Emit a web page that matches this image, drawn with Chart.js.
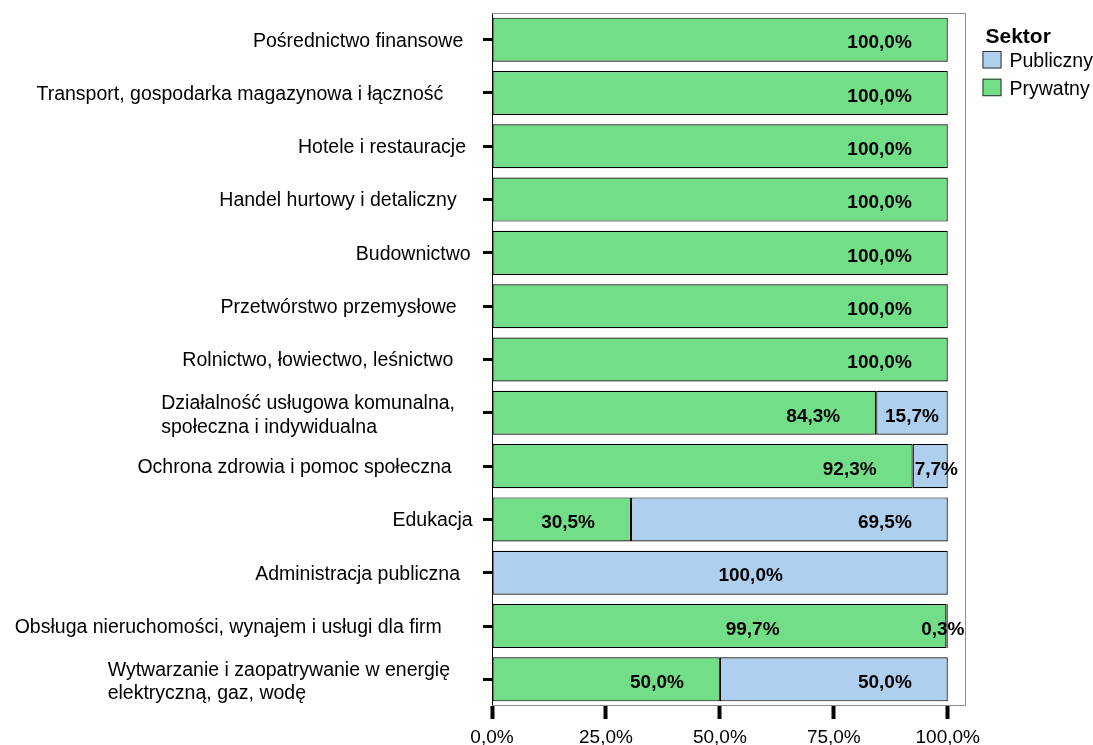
<!DOCTYPE html>
<html><head><meta charset="utf-8">
<script src="https://cdn.jsdelivr.net/npm/chart.js@4"></script>
<style>html,body{margin:0;padding:0;background:#fff}canvas{display:block}</style>
</head><body>
<canvas id="c" width="1093" height="745"></canvas>
<script>
// ---- data ----
const categories = [
  'Pośrednictwo finansowe',
  'Transport, gospodarka magazynowa i łączność',
  'Hotele i restauracje',
  'Handel hurtowy i detaliczny',
  'Budownictwo',
  'Przetwórstwo przemysłowe',
  'Rolnictwo, łowiectwo, leśnictwo',
  ['Działalność usługowa komunalna,', 'społeczna i indywidualna'],
  'Ochrona zdrowia i pomoc społeczna',
  'Edukacja',
  'Administracja publiczna',
  'Obsługa nieruchomości, wynajem i usługi dla firm',
  ['Wytwarzanie i zaopatrywanie w energię', 'elektryczną, gaz, wodę']
];
const prywatny  = [100, 100, 100, 100, 100, 100, 100, 84.3, 92.3, 30.5, 0, 99.7, 50.0];
const publiczny = [0, 0, 0, 0, 0, 0, 0, 15.7, 7.7, 69.5, 100, 0.3, 50.0];
const seriesNames = ['Prywatny', 'Publiczny'];
const legendTitle = 'Sektor';
const xTickValues = [0, 25, 50, 75, 100];

// ---- style ----
const FONT = "Arial, 'Liberation Sans', sans-serif";
const GREEN = '#72DE87';
const BLUE = '#AED0EE';
const BAR_BORDER = '#000';
const labelGap = [28.7, 48.7, 26, 35.3, 21.3, 35.3, 38.7, 37, 40.3, 19.3, 32, 50.3, 42];
const labelFracOverride = {10: 0.567, 11: 0.573};

const fmt = v => v.toFixed(1).replace('.', ',') + '%';
const nz = arr => arr.map(v => (v === 0 ? null : v));

const framePlugin = {
  id: 'frame',
  beforeDatasetsDraw(chart) {
    const {ctx, chartArea: a} = chart;
    ctx.save();
    ctx.strokeStyle = '#8c8c8c';
    ctx.lineWidth = 1;
    ctx.beginPath();
    ctx.moveTo(a.left, a.top + 0.5);
    ctx.lineTo(a.right - 0.5, a.top + 0.5);
    ctx.lineTo(a.right - 0.5, a.bottom - 0.5);
    ctx.lineTo(a.left, a.bottom - 0.5);
    ctx.stroke();
    ctx.restore();
  }
};

const valueLabelPlugin = {
  id: 'valueLabels',
  afterDatasetsDraw(chart) {
    const {ctx, chartArea: area} = chart;
    ctx.save();
    ctx.font = 'bold 19px ' + FONT;
    ctx.fillStyle = '#000';
    ctx.textBaseline = 'middle';
    ctx.textAlign = 'center';
    chart.data.datasets.forEach((ds, di) => {
      const meta = chart.getDatasetMeta(di);
      meta.data.forEach((bar, i) => {
        const v = ds.data[i];
        if (v == null) return;
        const p = bar.getProps(['x', 'base', 'y'], true);
        const left = Math.min(p.x, p.base), right = Math.max(p.x, p.base);
        const seg = right - left;
        const txt = fmt(v);
        const w = ctx.measureText(txt).width;
        let cx;
        if (labelFracOverride[i] != null) cx = left + seg * labelFracOverride[i];
        else if (seg - 36 >= w + 4) cx = right - 36 - w / 2;
        else if (seg >= w) cx = (left + right) / 2;
        else cx = left + 2 + w / 2;
        cx = Math.min(cx, area.right - 1.5 - w / 2);
        ctx.fillText(txt, cx, p.y + 3.5);
      });
    });
    ctx.restore();
  }
};

const yLabelPlugin = {
  id: 'yLabels',
  afterDraw(chart) {
    const {ctx} = chart;
    const ys = chart.scales.y;
    ctx.save();
    ctx.font = '19.5px ' + FONT;
    ctx.fillStyle = '#000';
    ctx.textBaseline = 'middle';
    ctx.textAlign = 'left';
    const lh = 23.4;
    chart.data.labels.forEach((lab, i) => {
      const lines = Array.isArray(lab) ? lab : [lab];
      const widths = lines.map(l => ctx.measureText(l).width);
      const maxW = Math.max(...widths);
      const rightEdge = ys.right - labelGap[i];
      const lx = rightEdge - maxW;
      const yc = ys.getPixelForTick(i) + (lines.length > 1 ? 3 : 1.5);
      lines.forEach((l, k) => ctx.fillText(l, lx, yc + (k - (lines.length - 1) / 2) * lh));
    });
    ctx.restore();
  }
};

const legendPlugin = {
  id: 'customLegend',
  afterDraw(chart) {
    const {ctx, chartArea: a} = chart;
    ctx.save();
    ctx.fillStyle = '#000';
    ctx.textBaseline = 'alphabetic';
    ctx.textAlign = 'left';
    ctx.font = 'bold 21px ' + FONT;
    ctx.fillText(legendTitle, a.right + 19.5, 43.3);
    ctx.font = '19.5px ' + FONT;
    const items = chart.data.datasets.slice().reverse();
    items.forEach((ds, k) => {
      const bx = a.right + 16.5, by = 51 + k * 27.7;
      ctx.fillStyle = ds.backgroundColor;
      ctx.fillRect(bx, by, 19, 17.5);
      ctx.strokeStyle = '#333';
      ctx.lineWidth = 1;
      ctx.strokeRect(bx + 0.5, by + 0.5, 18, 16.5);
      ctx.fillStyle = '#000';
      ctx.fillText(ds.label, a.right + 43.5, by + 16);
    });
    ctx.restore();
  }
};

new Chart(document.getElementById('c'), {
  type: 'bar',
  data: {
    labels: categories,
    datasets: [
      {label: seriesNames[0], data: nz(prywatny), backgroundColor: GREEN, borderColor: BAR_BORDER, borderWidth: 1.2, borderSkipped: false},
      {label: seriesNames[1], data: nz(publiczny), backgroundColor: BLUE, borderColor: BAR_BORDER, borderWidth: 1.2, borderSkipped: false}
    ]
  },
  options: {
    indexAxis: 'y',
    responsive: false,
    devicePixelRatio: 1,
    animation: false,
    barPercentage: 0.826,
    categoryPercentage: 1,
    layout: {padding: {top: 13, right: 127, bottom: 0, left: 0}},
    plugins: {legend: {display: false}, tooltip: {enabled: false}},
    scales: {
      x: {
        stacked: true,
        min: 0,
        max: 104,
        afterBuildTicks: s => { s.ticks = xTickValues.map(v => ({value: v})); },
        afterFit: s => { s.height = 39; },
        grid: {display: true, drawOnChartArea: false, drawTicks: true, tickLength: 13, tickWidth: 4, tickColor: '#000'},
        border: {display: false},
        ticks: {
          color: '#000',
          padding: 7,
          font: {family: FONT, size: 19},
          maxRotation: 0,
          autoSkip: false,
          callback: v => fmt(v)
        }
      },
      y: {
        stacked: true,
        afterFit: s => { s.width = 492; },
        grid: {display: true, offset: false, drawOnChartArea: false, drawTicks: true, tickLength: 9, tickWidth: 3, tickColor: '#000'},
        border: {display: true, color: '#000', width: 1},
        ticks: {display: false}
      }
    }
  },
  plugins: [framePlugin, valueLabelPlugin, yLabelPlugin, legendPlugin]
});
</script>
</body></html>
